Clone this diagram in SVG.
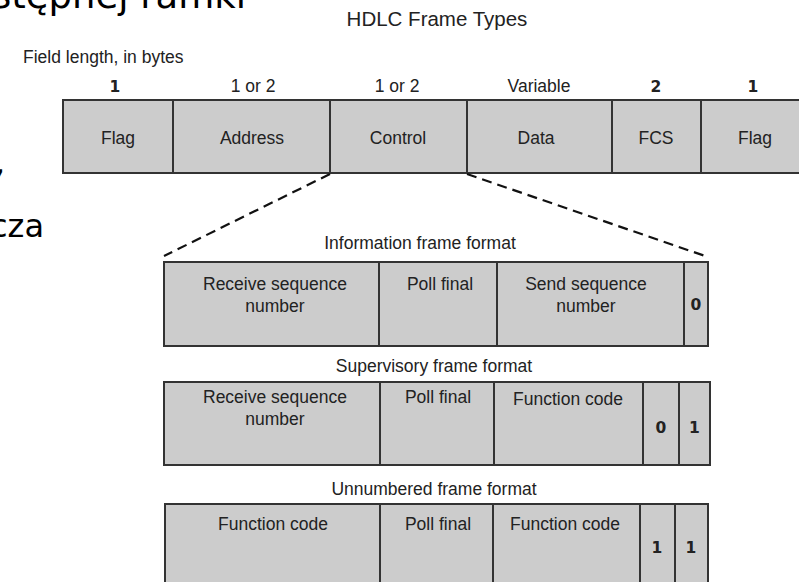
<svg xmlns="http://www.w3.org/2000/svg" width="799" height="582" viewBox="0 0 799 582">
  <style>
    .cell { fill: #cccccc; stroke: #333333; stroke-width: 2; }
    .t { font-family: "Liberation Sans", Arial, sans-serif; font-size: 17.5px; fill: #222222; text-anchor: middle; }
    .tl { font-family: "Liberation Sans", Arial, sans-serif; font-size: 17.5px; fill: #222222; }
    .title { font-family: "Liberation Sans", Arial, sans-serif; font-size: 20.5px; fill: #222222; text-anchor: middle; }
    .bit { font-family: "DejaVu Sans", Verdana, sans-serif; font-size: 15.5px; font-weight: bold; fill: #222222; text-anchor: middle; }
    .side { font-family: "DejaVu Sans", Verdana, sans-serif; font-size: 32px; fill: #000000; }
    .dash { fill: none; stroke: #111111; stroke-width: 2.2; stroke-dasharray: 10 6; }
  </style>
  <rect width="799" height="582" fill="#ffffff"/>

  <!-- fragments of surrounding slide text -->
  <text class="side" x="-8" y="8" style="font-size:37px">stępnej ramki</text>
  <text class="side" x="-5" y="173">,</text>
  <text class="side" x="-10" y="237">cza</text>

  <text class="title" x="437" y="26">HDLC Frame Types</text>
  <text class="tl" x="23" y="63">Field length, in bytes</text>

  <!-- field lengths -->
  <g id="lengths">
    <text class="bit" x="115" y="92">1</text>
    <text class="t" x="253" y="92">1 or 2</text>
    <text class="t" x="397" y="92">1 or 2</text>
    <text class="t" x="539" y="92">Variable</text>
    <text class="bit" x="656" y="92">2</text>
    <text class="bit" x="753" y="92">1</text>
  </g>

  <!-- HDLC frame fields -->
  <g id="frame">
    <g id="f-flag1"><rect class="cell" x="63" y="100" width="110" height="73"/><text class="t" x="118" y="144">Flag</text></g>
    <g id="f-address"><rect class="cell" x="173" y="100" width="157" height="73"/><text class="t" x="252" y="144">Address</text></g>
    <g id="f-control"><rect class="cell" x="330" y="100" width="137" height="73"/><text class="t" x="398" y="144">Control</text></g>
    <g id="f-data"><rect class="cell" x="467" y="100" width="145" height="73"/><text class="t" x="536" y="144">Data</text></g>
    <g id="f-fcs"><rect class="cell" x="612" y="100" width="89" height="73"/><text class="t" x="656" y="144">FCS</text></g>
    <g id="f-flag2"><rect class="cell" x="701" y="100" width="110" height="73"/><text class="t" x="755" y="144">Flag</text></g>
  </g>

  <!-- control field expansion -->
  <g id="connectors">
    <line class="dash" x1="330" y1="174" x2="164" y2="256"/>
    <line class="dash" x1="467" y1="174" x2="708" y2="257"/>
  </g>

  <!-- information frame -->
  <text class="t" x="420" y="249">Information frame format</text>
  <g id="info">
    <g id="i-recv"><rect class="cell" x="164" y="262" width="215" height="84"/><text class="t" x="275" y="290">Receive sequence</text><text class="t" x="275" y="312">number</text></g>
    <g id="i-poll"><rect class="cell" x="379" y="262" width="118" height="84"/><text class="t" x="440" y="290">Poll final</text></g>
    <g id="i-send"><rect class="cell" x="497" y="262" width="187" height="84"/><text class="t" x="586" y="290">Send sequence</text><text class="t" x="586" y="312">number</text></g>
    <g id="i-bit0"><rect class="cell" x="684" y="262" width="24" height="84"/><text class="bit" x="696" y="310">0</text></g>
  </g>

  <!-- supervisory frame -->
  <text class="t" x="434" y="372">Supervisory frame format</text>
  <g id="super">
    <g id="s-recv"><rect class="cell" x="164" y="382" width="216" height="83"/><text class="t" x="275" y="403">Receive sequence</text><text class="t" x="275" y="425">number</text></g>
    <g id="s-poll"><rect class="cell" x="380" y="382" width="114" height="83"/><text class="t" x="438" y="403">Poll final</text></g>
    <g id="s-func"><rect class="cell" x="494" y="382" width="149" height="83"/><text class="t" x="568" y="405">Function code</text></g>
    <g id="s-bit0"><rect class="cell" x="643" y="382" width="36" height="83"/><text class="bit" x="661" y="433">0</text></g>
    <g id="s-bit1"><rect class="cell" x="679" y="382" width="31" height="83"/><text class="bit" x="694.5" y="433">1</text></g>
  </g>

  <!-- unnumbered frame -->
  <text class="t" x="434" y="495">Unnumbered frame format</text>
  <g id="unnum">
    <g id="u-func1"><rect class="cell" x="165" y="504" width="215" height="96"/><text class="t" x="273" y="530">Function code</text></g>
    <g id="u-poll"><rect class="cell" x="380" y="504" width="113" height="96"/><text class="t" x="438" y="530">Poll final</text></g>
    <g id="u-func2"><rect class="cell" x="493" y="504" width="147" height="96"/><text class="t" x="565" y="530">Function code</text></g>
    <g id="u-bit1a"><rect class="cell" x="640" y="504" width="35" height="96"/><text class="bit" x="657" y="553">1</text></g>
    <g id="u-bit1b"><rect class="cell" x="675" y="504" width="33" height="96"/><text class="bit" x="691" y="553">1</text></g>
  </g>
</svg>
